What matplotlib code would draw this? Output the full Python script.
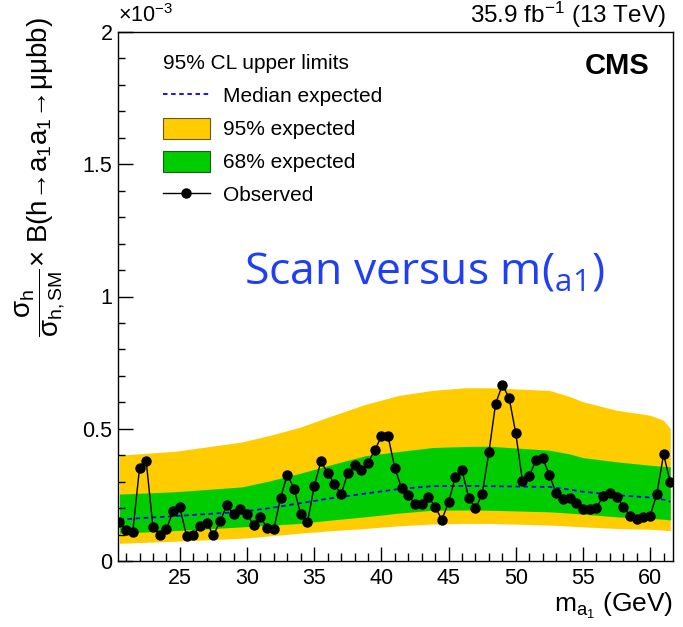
import numpy as np
import matplotlib
matplotlib.use('Agg')
import matplotlib.pyplot as plt
from matplotlib.patches import Patch
from matplotlib.lines import Line2D

plt.rcParams['font.family'] = ['Liberation Sans', 'DejaVu Sans']
plt.rcParams['mathtext.fontset'] = 'custom'
plt.rcParams['mathtext.default'] = 'regular'
plt.rcParams['mathtext.rm'] = 'Liberation Sans'
plt.rcParams['mathtext.it'] = 'Liberation Sans'

# observed limit, m(a1) from 20.5 to 61.5 GeV in 0.5 GeV steps (units of 1e-3)
mass = np.arange(20.5, 61.51, 0.5)
observed = [0.148, 0.117, 0.111, 0.350, 0.377, 0.129, 0.099, 0.120, 0.189, 0.203,
            0.095, 0.099, 0.132, 0.145, 0.097, 0.151, 0.210, 0.177, 0.195, 0.177,
            0.135, 0.166, 0.125, 0.121, 0.240, 0.326, 0.274, 0.176, 0.147, 0.282,
            0.377, 0.332, 0.292, 0.252, 0.332, 0.362, 0.345, 0.372, 0.418, 0.471,
            0.471, 0.352, 0.275, 0.250, 0.216, 0.216, 0.243, 0.205, 0.156, 0.222,
            0.317, 0.343, 0.239, 0.199, 0.253, 0.411, 0.595, 0.665, 0.618, 0.483,
            0.302, 0.320, 0.382, 0.389, 0.326, 0.257, 0.234, 0.240, 0.220, 0.196,
            0.196, 0.201, 0.246, 0.257, 0.243, 0.206, 0.171, 0.160, 0.166, 0.171,
            0.254, 0.403, 0.298]

# expected bands
band_mass = [20.5, 24.7, 29.6, 31.7, 33.9, 36.1, 38.8, 41.3, 43.8, 46.2, 48.0, 52.5,
             54.0, 55.0, 57.5, 60.0, 61.0, 61.5]
exp_95_up = [0.400, 0.415, 0.450, 0.475, 0.505, 0.545, 0.592, 0.626, 0.645, 0.655, 0.655,
             0.645, 0.622, 0.602, 0.570, 0.551, 0.532, 0.500]
exp_68_up = [0.253, 0.262, 0.280, 0.303, 0.331, 0.362, 0.398, 0.414, 0.429, 0.433, 0.434,
             0.419, 0.405, 0.391, 0.375, 0.362, 0.358, 0.356]
median = [0.157, 0.170, 0.186, 0.200, 0.218, 0.236, 0.255, 0.272, 0.283, 0.284, 0.283,
          0.280, 0.270, 0.262, 0.249, 0.240, 0.232, 0.224]
exp_68_dn = [0.105, 0.115, 0.129, 0.135, 0.142, 0.154, 0.167, 0.181, 0.192, 0.193, 0.192,
             0.186, 0.181, 0.177, 0.167, 0.161, 0.158, 0.155]
exp_95_dn = [0.067, 0.075, 0.086, 0.095, 0.105, 0.114, 0.123, 0.133, 0.140, 0.142, 0.142,
             0.136, 0.132, 0.129, 0.123, 0.120, 0.117, 0.114]

yellow = '#ffcc00'
green = '#00cc00'
blue = '#0000ff'

fig = plt.figure(figsize=(6.83, 6.27), dpi=100)
ax = fig.add_axes([118/683, 66/627, 555/683, 529/627])

ax.fill_between(band_mass, exp_95_dn, exp_95_up, color=yellow, lw=0)
ax.fill_between(band_mass, exp_68_dn, exp_68_up, color=green, lw=0)
ax.plot(band_mass, median, color=blue, ls=(0, (2.5, 2)), lw=1.3)
ax.plot(mass, observed, color='black', lw=1, marker='o', ms=6.5)

ax.set_xlim(20.4, 61.7)
ax.set_ylim(0, 2)
ax.set_xticks([25, 30, 35, 40, 45, 50, 55, 60])
ax.set_xticks(np.arange(21, 62, 1), minor=True)
ax.set_yticks([0, 0.5, 1, 1.5, 2])
ax.set_yticklabels(['0', '0.5', '1', '1.5', '2'])
ax.set_yticks(np.arange(0, 2.01, 0.1), minor=True)
ax.tick_params(which='both', direction='in', top=False, right=False, labelsize=15.5)
ax.tick_params(axis='y', which='major', length=11, width=1, pad=4)
ax.tick_params(axis='y', which='minor', length=5, width=1)
ax.tick_params(axis='x', which='major', length=10, width=1, pad=5)
ax.tick_params(axis='x', which='minor', length=5.5, width=1)
for s in ax.spines.values():
    s.set_linewidth(1)

fig.text(118/683, 1 - 16/627, r'$\times$10$^{-3}$', fontsize=15.5, ha='left', va='center')
fig.text(666/683, 1 - 15/627, r'35.9 fb$^{-1}$ (13 TeV)', fontsize=17.5, ha='right', va='center')
ax.text(0.958, 0.935, 'CMS', transform=ax.transAxes, fontsize=21, fontweight='bold',
        ha='right', va='center')

fig.text(673/683, 1 - 606/627, r'm$_{a_{1}}$ (GeV)', fontsize=19, ha='right', va='center')
fig.text(40/683, 1 - 17/627,
         r'$\dfrac{\sigma_{h}}{\sigma_{h,SM}}$' + '× B(h→a$_{1}$a$_{1}$→μμbb)',
         fontsize=20, rotation=90, ha='center', va='top')

ax.text(0.551, 0.545, r'Scan versus m($_{\mathregular{a1}}$)', transform=ax.transAxes,
        fontsize=32, color='#1f3ff5', family='Open Sans', ha='center', va='center')

handles = [Line2D([], [], color=blue, ls=(0, (2.5, 2)), lw=1.3),
           Patch(facecolor=yellow, edgecolor='#6b5a10', lw=0.8),
           Patch(facecolor=green, edgecolor='#1b5e1b', lw=0.8),
           Line2D([], [], color='black', lw=1, marker='o', ms=6.5)]
labels = ['Median expected', '95% expected', '68% expected', 'Observed']
leg = ax.legend(handles, labels, title='95% CL upper limits', loc='upper left',
                bbox_to_anchor=(0.081, 0.958), frameon=False, fontsize=15,
                title_fontsize=15, handlelength=2.25, handleheight=1.15,
                labelspacing=0.56, handletextpad=0.65, borderpad=0,
                borderaxespad=0, alignment='left')

fig.savefig('out.png', dpi=100)
